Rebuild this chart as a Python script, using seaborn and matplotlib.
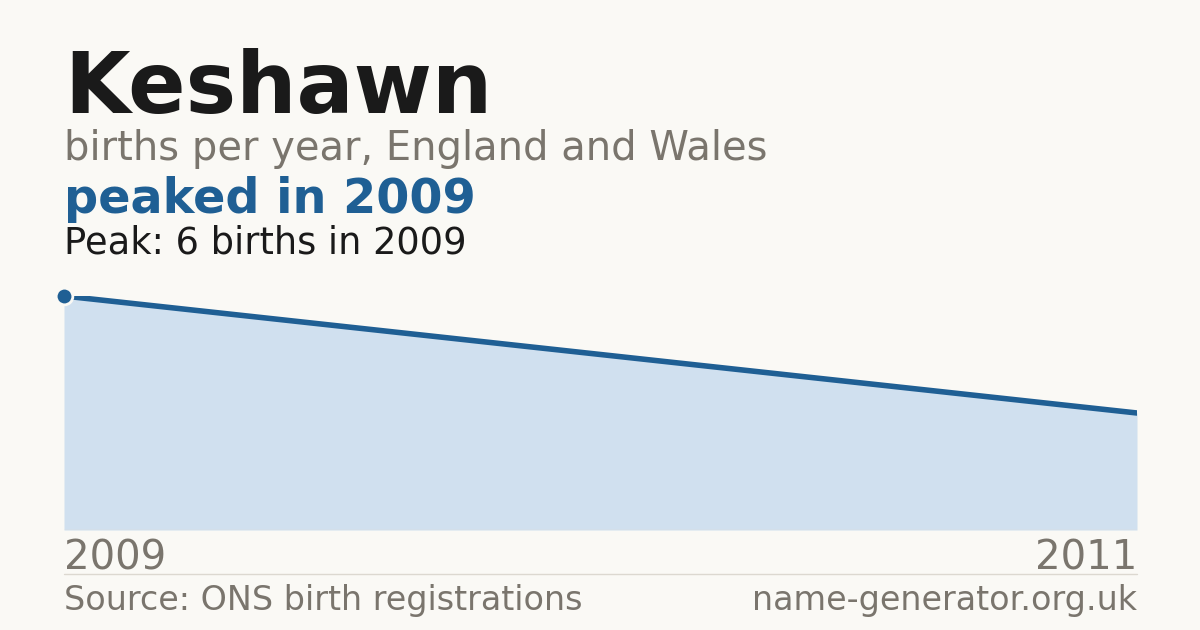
import os
import matplotlib
matplotlib.use("Agg")
import matplotlib.pyplot as plt
from matplotlib import font_manager
import seaborn as sns
import pandas as pd

# data
years = [2009, 2011]
births = [6, 3]
peak_year = 2009
peak_births = 6

name = "Keshawn"
subtitle = "births per year, England and Wales"
headline = "peaked in 2009"
peak_note = "Peak: 6 births in 2009"
source = "Source: ONS birth registrations"
site = "name-generator.org.uk"

BG = "#faf9f5"
INK = "#1a1a1a"
GREY = "#7a756d"
BLUE = "#1f5f94"
FILL = "#d0e0ef"

sns.set_theme(style="white")

# use matplotlib's bundled DejaVu files directly
ttf_dir = os.path.join(matplotlib.get_data_path(), "fonts", "ttf")
REG = font_manager.FontProperties(fname=os.path.join(ttf_dir, "DejaVuSans.ttf"))
BOLD = font_manager.FontProperties(fname=os.path.join(ttf_dir, "DejaVuSans-Bold.ttf"))
plt.rcParams['font.family'] = ['DejaVu Sans']

df = pd.DataFrame({"year": years, "births": births})

fig = plt.figure(figsize=(12, 6.3), dpi=100, facecolor=BG)
W, H = 1200, 630

def fy(px):
    return 1 - px / H

ax = fig.add_axes([64 / W, fy(530), (1137 - 64) / W, (530 - 296) / H])
ax.set_facecolor(BG)

ax.fill_between(df["year"], df["births"], 0, color=FILL, linewidth=0)
sns.lineplot(data=df, x="year", y="births", ax=ax, color=BLUE, linewidth=4)
ax.plot([peak_year], [peak_births], marker="o", markersize=12, color=BLUE,
        markeredgecolor=BG, markeredgewidth=2, clip_on=False, zorder=5)
ax.axhline(0, color="#e3ded6", linewidth=1)

ax.set_xlim(min(years), max(years))
ax.set_ylim(0, peak_births)
ax.set_xticks([])
ax.set_yticks([])
ax.set_xlabel("")
ax.set_ylabel("")
for s in ax.spines.values():
    s.set_visible(False)

def put(x, y, s, size, color, bold=False, ha="left"):
    fp = (BOLD if bold else REG).copy()
    fp.set_size(size)
    fig.text(x / W, fy(y), s, fontproperties=fp, color=color, va="baseline", ha=ha)

# text block
put(64, 113, name, 61, INK, bold=True)
put(64, 160, subtitle, 28.8, GREY)
put(64, 213, headline, 34.4, BLUE, bold=True)
put(64, 253, peak_note, 26.5, INK)

# x labels
put(64, 570, str(years[0]), 29, GREY)
put(1137, 570, str(years[-1]), 29, GREY, ha="right")

# footer
fig.add_artist(plt.Line2D([64 / W, 1137 / W], [fy(574), fy(574)], color="#dcd8d0", linewidth=1))
put(64, 610, source, 24, GREY)
put(1137, 610, site, 24, GREY, ha="right")

fig.savefig("out.png", dpi=100, facecolor=BG)
